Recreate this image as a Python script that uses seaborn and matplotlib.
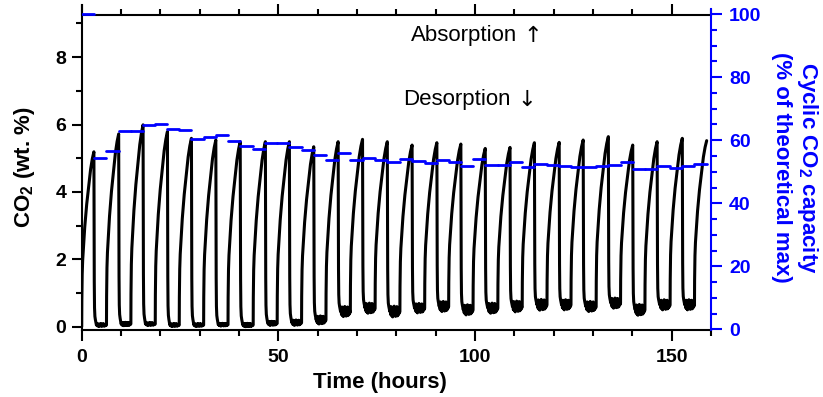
import numpy as np
import pandas as pd
import matplotlib
matplotlib.use("Agg")
import matplotlib.pyplot as plt
import seaborn as sns
from matplotlib.ticker import MultipleLocator, FixedLocator

sns.set_theme(style="ticks")
plt.rcParams["font.family"] = ["Liberation Sans", "DejaVu Sans"]
plt.rcParams["mathtext.fontset"] = "custom"
plt.rcParams["mathtext.rm"] = "Liberation Sans"
plt.rcParams["mathtext.bf"] = "Liberation Sans:bold"
for key in ["text.color", "axes.labelcolor", "xtick.color", "ytick.color", "axes.edgecolor"]:
    plt.rcParams[key] = "black"

# ---------------- data ----------------
# time (h) and CO2 uptake (wt. %) at the end of each absorption step
peak_time = [3.1, 9.4, 15.6, 21.8, 27.9, 34.1, 40.3, 46.7, 52.8, 59.0, 65.2, 71.4, 77.7,
             84.0, 90.3, 96.4, 102.6, 108.9, 115.1, 121.4, 127.5, 133.9, 140.1, 146.3,
             152.7, 158.9]
peak_value = [5.19, 5.72, 5.99, 5.79, 5.59, 5.54, 5.49, 5.49, 5.49, 5.34, 5.49, 5.56, 5.49,
              5.39, 5.46, 5.42, 5.29, 5.32, 5.46, 5.47, 5.54, 5.64, 5.39, 5.49, 5.59, 5.52]
# residual CO2 level reached in each desorption step and visible noise band height
base_value = [0.05, 0.08, 0.08, 0.05, 0.05, 0.06, 0.05, 0.10, 0.12, 0.20, 0.45, 0.55, 0.45,
              0.55, 0.60, 0.50, 0.55, 0.60, 0.65, 0.65, 0.60, 0.70, 0.50, 0.65, 0.65]
base_band = [0.04, 0.05, 0.04, 0.04, 0.04, 0.04, 0.05, 0.06, 0.08, 0.12, 0.15, 0.15, 0.16,
             0.14, 0.15, 0.15, 0.15, 0.16, 0.16, 0.15, 0.15, 0.15, 0.16, 0.15, 0.15]
absorption_hours = 3.1
# shape of one absorption step (fraction of step time, fraction of rise)
rise_t = [0.0, 0.01, 0.04, 0.08, 0.14, 0.25, 0.41, 0.55, 0.73, 0.87, 1.0]
rise_v = [0.0, 0.15, 0.30, 0.38, 0.45, 0.57, 0.70, 0.79, 0.90, 0.96, 1.0]
# shape of the drop at the start of each desorption step
drop_t = [0.0, 0.015, 0.03, 0.05, 0.08, 0.12, 0.2]
drop_v = [1.0, 0.60, 0.25, 0.10, 0.05, 0.03, 0.0]
# noise seen on the desorption baseline (in units of the band height)
base_noise = [0.8, -0.6, 0.9, -0.8, 0.5, -1.0, 0.7, -0.5, 1.0, -0.7, 0.6, -0.9, 0.8,
              -0.4, 0.9, -0.8, 0.3, -0.6, 0.5, -0.3]

# cyclic capacity (% of theoretical max), one value per half cycle
capacity = [100, 54.3, 56.6, 62.9, 62.9, 64.7, 65.0, 63.7, 63.4, 60.3, 60.9, 61.7, 59.8,
            58.2, 57.2, 59.0, 59.0, 57.7, 57.0, 55.4, 53.7, 55.8, 53.7, 54.4, 53.7, 53.2,
            54.0, 53.5, 52.8, 53.8, 53.0, 51.7, 54.0, 52.1, 52.1, 53.2, 51.4, 52.4, 52.2,
            51.9, 51.6, 51.6, 51.9, 52.1, 53.0, 50.9, 50.9, 51.9, 51.3, 51.9, 52.4]

x_ticks = [0, 50, 100, 150]
y_ticks = [0, 2, 4, 6, 8]
y2_ticks = [0, 20, 40, 60, 80, 100]

# ---------------- build tables ----------------
n = len(peak_time)
rows = []
for i in range(n):
    s = 0.0 if i == 0 else peak_time[i] - absorption_hours
    b0 = 0.0 if i == 0 else base_value[i - 1]
    for ft, fv in zip(rise_t, rise_v):
        rows.append((s + ft * (peak_time[i] - s), b0 + fv * (peak_value[i] - b0)))
    if i < n - 1:
        e = peak_time[i + 1] - absorption_hours
        d = e - peak_time[i]
        for ft, fv in zip(drop_t[1:], drop_v[1:]):
            rows.append((peak_time[i] + ft * d, base_value[i] + fv * (peak_value[i] - base_value[i])))
        m = len(base_noise)
        for k, w in enumerate(base_noise):
            ft = 0.2 + 0.8 * (k + 1) / (m + 1)
            rows.append((peak_time[i] + ft * d, base_value[i] + w * base_band[i]))
co2 = pd.DataFrame(rows, columns=["time", "co2"])

bounds = [0.0]
for i in range(n):
    if i > 0:
        bounds.append(peak_time[i] - absorption_hours)
    bounds.append(peak_time[i])
seg_rows = []
for k, v in enumerate(capacity):
    seg_rows.append((k, bounds[k], v))
    seg_rows.append((k, bounds[k + 1], v))
cap = pd.DataFrame(seg_rows, columns=["seg", "time", "cap"])

# ---------------- plot ----------------
W, H = 823, 397
fig = plt.figure(figsize=(W / 100, H / 100), dpi=100)
left_px, right_px, top_px, bot_px = 81.7, 711.0, 4.7, 330.0
ax = fig.add_axes([left_px / W, 1 - bot_px / H, (right_px - left_px) / W, (bot_px - top_px) / H])
ax2 = ax.twinx()

sns.lineplot(data=co2, x="time", y="co2", sort=False, estimator=None, color="black",
             lw=2.2, ax=ax)
sns.lineplot(data=cap, x="time", y="cap", units="seg", estimator=None, color="#0000FF",
             lw=2.0, ax=ax2)

ax.set_xlim(0, 160)
ax.set_ylim(-0.098, 9.555)
ax2.set_ylim(-0.2, 103.0)

ax.spines["top"].set_position(("data", 9.26))
ax.spines["right"].set_visible(False)
for sp in ["top", "left", "bottom"]:
    ax2.spines[sp].set_visible(False)
ax2.spines["right"].set_color("#0000FF")
ax2.spines["right"].set_bounds(-0.2, 101.5)
for sp in ["top", "left", "bottom"]:
    ax.spines[sp].set_linewidth(1.5)
    ax.spines[sp].set_color("black")
ax2.spines["right"].set_linewidth(1.5)

ax.set_xticks(x_ticks)
ax.xaxis.set_minor_locator(MultipleLocator(10))
ax.set_yticks(y_ticks)
ax.yaxis.set_minor_locator(MultipleLocator(1))
ax2.set_yticks(y2_ticks)
ax2.yaxis.set_minor_locator(FixedLocator(list(range(0, 101, 5))))

ax.tick_params(axis="x", which="major", direction="out", length=8, width=1.5,
               top=True, bottom=True, labeltop=False, labelsize=14, pad=6, colors="black")
ax.tick_params(axis="x", which="minor", direction="out", length=4.5, width=1.5,
               top=True, bottom=True, colors="black")
ax.tick_params(axis="y", which="major", direction="out", length=7, width=1.5,
               labelsize=14, pad=4, colors="black")
ax.tick_params(axis="y", which="minor", direction="out", length=4.5, width=1.5, colors="black")
ax2.tick_params(axis="y", which="major", direction="out", length=8, width=1.5,
                labelsize=14, pad=5, colors="#0000FF")
ax2.tick_params(axis="y", which="minor", direction="out", length=4.5, width=1.5,
                colors="#0000FF")
for lbl in ax.get_xticklabels() + ax.get_yticklabels() + ax2.get_yticklabels():
    lbl.set_fontweight("bold")

ax.set_xlabel("Time (hours)", fontsize=16, fontweight="bold", color="black")
ax.xaxis.set_label_coords(0.474, -0.128)
ax.set_ylabel(r"CO$_\mathbf{2}$ (wt. %)", fontsize=16, fontweight="bold", color="black",
              labelpad=13)
ax2.set_ylabel("Cyclic CO$_\\mathbf{2}$ capacity\n(% of theoretical max)", fontsize=16,
               fontweight="bold", color="#0000FF", rotation=270, labelpad=42)

t1 = ax.text(97.1, 8.63, "Absorption", ha="center", va="center", fontsize=16, color="black")
ax.annotate("\u2191", xy=(1, 0.5), xycoords=t1, xytext=(5, 0), textcoords="offset points",
            ha="left", va="center", fontsize=16, family="DejaVu Sans", color="black")
t2 = ax.text(95.4, 6.73, "Desorption", ha="center", va="center", fontsize=16, color="black")
ax.annotate("\u2193", xy=(1, 0.5), xycoords=t2, xytext=(5, 0), textcoords="offset points",
            ha="left", va="center", fontsize=16, family="DejaVu Sans", color="black")

fig.savefig("out.png", dpi=100)
